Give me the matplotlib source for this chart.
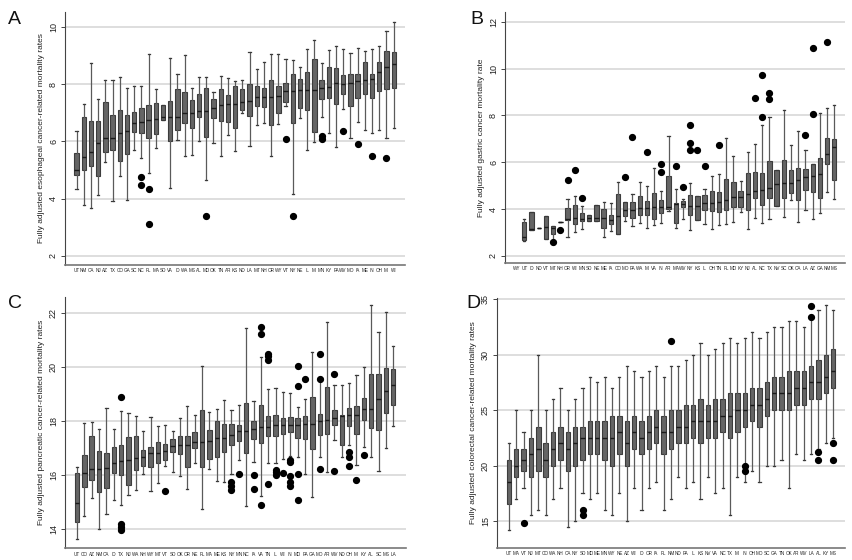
import matplotlib
matplotlib.use("Agg")
import matplotlib.pyplot as plt

plt.rcParams['font.family'] = ['Liberation Sans', 'DejaVu Sans']

# ---------------- Panel A: esophageal ----------------
states_A = ["UT","NM","CA","NJ","AZ","TX","CO","GA","SC","NC","FL","MA","SD","VA","ID",
            "WA","MS","AL","MD","OK","TN","AR","KS","ND","LA","MT","NH","OR","WY","VT",
            "NY","NE","IL","MI","MN","KY","PA","WV","MO","IA","ME","IN","OH","MI","WI"]
lo_A  = [4.33,3.76,3.68,4.14,5.29,3.91,4.79,3.95,5.70,5.42,4.89,5.78,6.75,4.36,6.04,
         5.48,5.54,6.00,4.66,5.95,5.50,6.24,5.65,7.01,5.83,6.58,6.65,5.50,6.62,7.25,
         4.17,6.82,5.69,5.97,6.87,6.29,5.79,7.14,6.11,6.67,6.41,6.29,6.39,6.13,6.48]
q1_A  = [4.81,5.01,5.13,4.79,5.63,5.70,5.30,5.55,6.33,6.30,6.12,6.26,6.75,6.02,6.40,
         6.66,6.48,6.85,6.17,6.83,6.73,6.69,6.46,7.12,6.90,7.23,7.20,6.58,6.99,7.38,
         6.64,7.17,7.10,6.34,7.49,7.54,7.31,7.66,7.24,7.54,7.66,7.52,7.77,7.85,7.89]
med_A = [5.01,5.46,5.62,5.96,6.12,6.12,6.31,6.36,6.66,6.69,6.75,6.80,6.87,6.85,6.86,
         7.00,7.01,7.08,7.08,7.18,7.27,7.31,7.32,7.39,7.42,7.56,7.55,7.57,7.61,7.77,
         7.78,7.80,7.82,7.82,7.89,7.91,8.04,8.01,8.06,8.11,8.14,8.20,8.42,8.62,8.73]
q3_A  = [5.58,6.86,6.72,6.72,7.37,6.92,7.09,6.92,7.04,7.18,7.27,7.36,7.27,7.42,7.83,
         7.72,7.45,7.66,7.89,7.50,7.83,7.62,7.94,7.83,8.03,7.96,7.86,8.15,7.93,8.05,
         8.35,8.18,8.45,8.88,8.14,8.61,8.57,8.32,8.36,8.36,8.80,8.36,8.79,9.18,9.14]
hi_A  = [6.37,7.32,8.74,7.49,8.15,8.15,8.27,7.89,7.96,7.96,9.05,7.83,7.27,8.91,8.35,
         9.04,7.89,8.25,8.25,7.75,8.29,8.22,8.12,8.15,9.14,8.55,8.80,9.05,9.05,8.89,
         8.87,8.62,9.24,9.56,8.74,9.22,9.36,9.24,9.12,9.29,9.18,9.26,9.36,9.86,10.20]
out_A = [[],[],[],[],[],[],[],[],[],[4.77,4.47],[4.32,3.10],[],[],[],[],
         [],[],[],[3.38],[],[],[],[],[],[],[],[],[],[],[6.07],
         [3.40],[],[],[],[6.19,6.10],[],[],[6.37],[],[5.90],[],[5.48],[],[5.42],[]]

# ---------------- Panel B: gastric ----------------
states_B = ["WY","UT","ID","ND","VT","MT","NH","OR","WI","MN","SD","NE","ME","IA","CO",
            "MO","PA","WA","MI","VA","IN","AR","MA","WV","NY","KS","IL","OH","TN","FL",
            "MD","KY","NJ","AL","NC","TX","NV","SC","OK","CA","LA","AZ","GA","NM","MS"]
lo_B  = [None,2.64,3.12,3.18,2.71,2.68,3.44,2.83,3.04,3.14,3.49,3.51,2.81,3.08,2.92,
         3.49,3.29,3.39,3.19,3.32,3.39,3.91,3.18,3.59,3.11,3.54,3.38,3.15,3.31,3.37,
         3.44,3.86,3.14,3.64,3.42,3.59,4.12,3.68,4.39,3.44,3.95,3.58,3.82,4.75,4.45]
q1_B  = [None,2.69,3.12,3.18,2.71,2.92,3.44,3.52,3.38,3.51,3.49,3.51,3.21,3.35,2.92,
         3.71,3.64,3.75,3.76,3.59,3.83,4.02,3.39,4.08,3.73,3.54,3.96,3.92,3.87,3.96,
         4.09,4.09,3.95,4.49,4.19,4.48,4.12,4.46,4.69,4.40,4.80,4.75,4.49,5.94,5.23]
med_B = [None,2.83,3.15,3.18,3.22,3.18,3.44,3.57,3.61,3.59,3.62,3.61,3.64,3.52,3.72,
         3.96,3.95,4.03,4.05,4.08,4.08,4.11,4.24,4.22,4.15,4.15,4.26,4.26,4.29,4.40,
         4.52,4.53,4.65,4.77,4.80,4.89,5.09,5.10,5.12,5.24,5.36,5.40,5.51,6.35,6.67]
q3_B  = [None,3.45,3.87,3.18,3.72,3.28,3.44,4.05,4.18,3.85,3.74,4.18,4.02,3.74,4.65,
         4.30,4.30,4.56,4.36,4.67,4.40,5.41,4.25,4.36,4.62,4.58,4.60,4.76,4.73,5.30,
         5.17,4.76,5.53,5.60,5.53,6.04,5.66,6.08,5.66,5.76,5.71,5.93,6.20,7.04,7.01]
hi_B  = [None,3.59,3.87,3.18,3.72,3.28,3.44,4.42,4.55,4.15,3.74,4.18,4.32,4.25,5.14,
         4.30,4.63,5.16,5.00,5.77,4.77,7.12,4.86,4.45,5.10,4.58,4.86,5.40,5.49,7.02,
         6.28,5.18,6.45,6.76,7.60,7.95,5.66,8.22,6.74,7.34,6.53,5.93,8.09,8.33,8.43]
out_B = [[],[],[],[],[],[2.60],[3.11],[5.23],[5.67],[4.49],[],[],[],[],[],
         [5.36],[7.06],[],[6.42],[],[5.91,5.58],[],[5.85],[4.96],[7.60,6.81,6.52],[6.52],[5.83],[],[6.75],[],
         [],[],[],[8.74],[9.72,7.93],[8.96,8.71],[],[],[],[],[7.16],[10.89,8.06],[],[11.15],[]]

# ---------------- Panel C: pancreatic ----------------
states_C = ["UT","CO","AZ","NM","CA","ID","TX","NJ","WA","NH","WY","MT","VT","SD","OK",
            "OR","NE","FL","MA","ME","KS","NY","MN","NC","IA","VA","TN","IL","WI","IN",
            "MD","PA","GA","MO","AR","WV","ND","OH","MI","KY","AL","SC","MS","LA"]
lo_C  = [13.62,14.46,15.13,14.01,14.56,15.08,14.87,15.24,15.45,16.04,15.40,15.70,16.34,16.09,15.96,
         15.49,16.45,14.73,16.23,15.76,15.72,16.04,16.56,14.86,16.46,15.20,16.44,16.44,16.59,16.71,
         16.65,16.03,15.18,16.66,16.12,17.29,16.68,17.12,16.38,17.02,16.68,16.15,16.98,17.82]
q1_C  = [14.25,15.55,15.80,15.36,15.53,16.08,15.99,15.64,16.19,16.33,16.31,16.45,16.54,16.84,16.78,
         16.29,17.00,16.29,16.59,16.66,16.83,17.11,17.25,16.81,17.33,17.17,17.43,17.45,17.53,17.58,
         17.36,17.32,16.96,17.49,17.51,17.83,17.09,17.80,17.51,18.02,17.74,17.67,18.29,18.58]
med_C = [14.95,16.07,16.21,16.23,16.24,16.44,16.50,16.55,16.64,16.66,16.81,16.81,16.87,17.06,17.11,
         17.11,17.20,17.22,17.24,17.36,17.36,17.48,17.61,17.61,17.70,17.77,17.78,17.86,17.86,17.86,
         17.86,17.87,17.90,17.98,18.04,18.12,18.17,18.21,18.22,18.44,18.45,18.81,19.10,19.34]
q3_C  = [16.07,16.73,17.45,16.87,16.80,17.04,17.12,17.41,17.45,16.91,17.03,17.23,17.15,17.32,17.45,
         17.45,17.59,18.42,17.65,17.98,17.88,17.87,17.85,18.66,17.98,18.60,18.17,18.23,18.12,18.16,
         18.11,18.17,18.87,18.27,19.24,18.42,18.22,18.49,18.56,18.84,19.74,19.74,19.96,19.92]
hi_C  = [16.31,17.92,17.96,17.71,18.49,17.70,18.35,18.30,18.17,17.62,18.14,17.80,17.86,17.61,18.09,
         18.54,18.23,20.02,18.32,18.44,18.77,18.40,18.60,21.44,18.75,20.36,19.19,19.22,19.07,19.02,
         18.51,18.80,20.55,19.47,21.65,19.32,19.32,19.39,19.71,20.00,22.31,21.28,22.04,20.76]
out_C = [[],[],[],[],[],[],[18.87,14.18,14.06,13.94],[],[],[],[],[],[15.39],[],[],
         [],[],[],[],[],[],[15.72,15.57,15.45],[16.05],[],[16.00,15.47],[21.47,21.23,14.88],
         [20.49,20.39,20.27,15.66],[16.19,16.09,15.98],[16.07],[16.56,16.46,15.94,15.72,15.60],
         [20.02,19.28,16.05,15.08],[19.54],[],[20.48,19.54,16.21],[],[19.74,16.15],[],[16.85,16.68,16.34],
         [15.81],[16.73],[],[],[],[]]

# ---------------- Panel D: colorectal ----------------
states_D = ["UT","MA","VT","NJ","MT","CO","WA","NH","CA","NY","SD","MD","ME","MN","WY",
            "NE","AZ","WI","ID","OR","IA","FL","NM","ND","PA","IL","KS","NV","VA","NC",
            "TX","MI","IN","OH","MO","SC","GA","TN","OK","AR","WV","LA","AL","KY","MS"]
lo_D  = [14.2,17.0,18.0,15.5,16.0,15.5,17.0,18.0,14.5,15.0,17.5,17.0,17.5,16.0,15.5,
         17.5,15.0,18.0,16.0,18.0,18.5,16.0,17.0,19.0,18.0,18.5,17.0,19.0,17.5,18.0,
         15.5,19.0,18.5,19.5,18.5,20.0,20.0,20.5,18.0,21.0,20.5,21.0,21.5,22.0,22.5]
q1_D  = [16.5,19.0,19.5,19.0,19.5,19.0,20.0,20.5,19.5,20.0,20.5,21.0,21.0,20.5,20.0,
         21.0,20.0,21.5,21.0,21.5,22.0,21.0,21.5,22.0,22.0,22.5,22.0,22.5,22.5,23.0,
         22.5,23.0,23.5,24.0,23.5,24.5,25.0,25.0,25.0,25.5,25.5,26.0,26.0,26.5,27.0]
med_D = [18.5,20.0,20.5,21.0,21.5,20.5,21.5,22.0,21.5,22.0,22.5,22.5,22.5,22.5,22.5,
         23.0,22.0,23.0,22.5,23.0,23.5,23.0,23.0,23.5,23.5,24.0,24.0,24.0,24.0,24.5,
         24.5,25.0,25.0,25.5,25.5,26.0,26.5,26.5,26.5,27.0,27.0,27.5,27.5,28.0,28.5]
q3_D  = [20.5,21.5,21.5,22.5,23.5,22.0,23.0,23.5,23.0,23.5,23.5,24.0,24.0,24.0,24.5,
         24.5,24.0,24.5,24.0,24.5,25.0,24.5,25.0,25.0,25.5,25.5,26.0,25.5,26.0,26.0,
         26.5,26.5,26.5,27.0,27.0,27.5,28.0,28.0,28.5,28.5,28.5,29.0,29.5,30.0,30.5]
hi_D  = [22.0,25.0,23.0,25.0,30.0,25.0,26.0,27.0,25.0,26.0,27.0,28.0,27.5,28.0,27.0,
         28.0,29.0,28.5,28.0,28.5,29.0,28.0,29.0,29.0,29.5,30.0,31.0,30.0,30.5,31.0,
         31.5,31.0,31.5,32.0,31.5,32.0,32.5,32.5,33.0,33.0,32.5,33.5,34.0,34.5,34.0]
out_D = [[],[],[14.8],[],[],[],[],[],[],[],[15.5,16.0],[],[],[],[],
         [],[],[],[],[],[],[],[31.2],[],[],[],[],[],[],[],
         [],[],[20.0,19.5],[],[],[],[],[],[],[],[],[34.4,33.4],[21.2,20.5],[],[22.0,20.5]]

# ---------------- drawing ----------------
BOX_FACE = '#656565'
BOX_EDGE = '#3c3c3c'
GRID = '#d4d4d4'

def panel(ax, states, lo, q1, med, q3, hi, outs, xlim, ylim, yticks, ylabel):
    stats, pos = [], []
    for i in range(len(states)):
        if med[i] is None:
            continue
        stats.append(dict(med=med[i], q1=q1[i], q3=q3[i], whislo=lo[i], whishi=hi[i],
                          fliers=outs[i]))
        pos.append(i + 1)
    ax.bxp(stats, positions=pos, widths=0.6, capwidths=0.3, patch_artist=True,
           boxprops=dict(facecolor=BOX_FACE, edgecolor=BOX_EDGE, linewidth=0.8),
           medianprops=dict(color='#1a1a1a', linewidth=1.0),
           whiskerprops=dict(color='#5a5a5a', linewidth=0.9),
           capprops=dict(color='#3a3a3a', linewidth=0.9),
           flierprops=dict(marker='o', markerfacecolor='black', markeredgecolor='black',
                           markersize=4.2))
    ax.set_xlim(*xlim)
    ax.set_ylim(*ylim)
    ax.set_xticks(range(1, len(states) + 1))
    ax.set_xticklabels(states, fontsize=3.3, color='#222222')
    ax.tick_params(axis='x', length=0, pad=2.5)
    ax.set_yticks(yticks)
    ax.set_yticklabels([str(t) for t in yticks], rotation=90, va='center', fontsize=6.5,
                       color='#222222')
    ax.tick_params(axis='y', length=3, width=0.7, color='#444444', pad=2)
    ax.yaxis.grid(True, color=GRID, linewidth=1.1)
    ax.set_axisbelow(True)
    for s in ['top', 'right']:
        ax.spines[s].set_visible(False)
    ax.spines['left'].set_color('#444444')
    ax.spines['left'].set_linewidth(0.8)
    ax.spines['bottom'].set_color('#777777')
    ax.spines['bottom'].set_linewidth(1.2)
    ax.set_ylabel(ylabel, fontsize=6.0, color='#222222', labelpad=3)

fig = plt.figure(figsize=(8.52, 5.6), dpi=100)

axA = fig.add_axes([65/852, 1-265/560, 340/852, 253/560])
panel(axA, states_A, lo_A, q1_A, med_A, q3_A, hi_A, out_A, (-0.6, 46.57), (1.67, 10.54),
      [2, 4, 6, 8, 10], 'Fully adjusted esophageal cancer-related mortality rates')

axB = fig.add_axes([505/852, 1-263/560, 340/852, 251.3/560])
panel(axB, states_B, lo_B, q1_B, med_B, q3_B, hi_B, out_B, (-0.68, 46.48), (1.70, 12.43),
      [2, 4, 6, 8, 10, 12], 'Fully adjusted gastric cancer mortality rate')

axC = fig.add_axes([65/852, 1-548.3/560, 340.7/852, 251.6/560])
panel(axC, states_C, lo_C, q1_C, med_C, q3_C, hi_C, out_C, (-0.63, 45.69), (13.28, 22.6),
      [14, 16, 18, 20, 22], 'Fully adjusted pancreatic cancer-related mortality rates')

axD = fig.add_axes([497/852, 1-548/560, 348/852, 250/560])
panel(axD, states_D, lo_D, q1_D, med_D, q3_D, hi_D, out_D, (-0.6, 46.6), (12.57, 35.1),
      [15, 20, 25, 30, 35], 'Fully adjusted colorectal cancer-related mortality rates')

for lab, x, y in [('A', 8, 20), ('B', 470, 20), ('C', 8, 303), ('D', 466, 303)]:
    fig.text(x/852, 1-y/560, lab, fontsize=14, va='center', ha='left', color='#111111')

fig.savefig('out.png', dpi=100, facecolor='white')
